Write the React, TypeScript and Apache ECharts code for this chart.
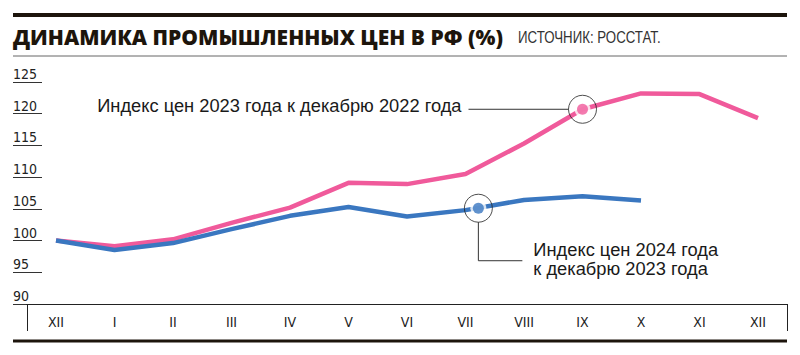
import React, { useEffect, useRef } from "react";
import * as echarts from "echarts";

const months = ["XII", "I", "II", "III", "IV", "V", "VI", "VII", "VIII", "IX", "X", "XI", "XII"];
const index2023 = [100, 99.1, 100.2, 102.8, 105.2, 109.1, 108.9, 110.5, 115.3, 120.7, 123.2, 123.1, 119.3];
const index2024 = [100, 98.5, 99.6, 101.8, 103.9, 105.3, 103.8, 104.8, 106.4, 107.0, 106.3];
const yMin = 90;
const yMax = 125;
const yStep = 5;
const marker2023 = [9, 120.7];
const marker2024 = [7.22, 105.1];
const title = "ДИНАМИКА ПРОМЫШЛЕННЫХ ЦЕН В РФ (%)";
const source = "ИСТОЧНИК: РОССТАТ.";
const label2023 = "Индекс цен 2023 года к декабрю 2022 года";
const label2024 = ["Индекс цен 2024 года", "к декабрю 2023 года"];

const PINK = "#f05a9b";
const BLUE = "#3a77c0";
const INK = "#1d150c";
const COND = "'Liberation Sans Narrow', 'DejaVu Sans Condensed', 'Liberation Sans', Arial, sans-serif";
const SANS = "'Liberation Sans', Arial, sans-serif";

export default function App() {
  const ref = useRef<HTMLDivElement>(null);
  useEffect(() => {
    document.body.style.margin = "0";
    const chart = echarts.init(ref.current!, null, { renderer: "svg" });
    const markerSeries = (pt: number[], color: string, name: string) => [
      {
        name: name + "-ring",
        type: "scatter",
        xAxisIndex: 1,
        yAxisIndex: 0,
        data: [pt],
        symbol: "circle",
        symbolSize: 28,
        itemStyle: { color: "rgba(0,0,0,0)", borderColor: "#222", borderWidth: 1 },
        z: 5,
        silent: true,
      },
      {
        name: name + "-gap",
        type: "scatter",
        xAxisIndex: 1,
        yAxisIndex: 0,
        data: [pt],
        symbol: "circle",
        symbolSize: 16,
        itemStyle: { color: "#fff" },
        z: 6,
        silent: true,
      },
      {
        name: name + "-dot",
        type: "scatter",
        xAxisIndex: 1,
        yAxisIndex: 0,
        data: [pt],
        symbol: "circle",
        symbolSize: 11,
        itemStyle: { color },
        z: 7,
        silent: true,
      },
    ];
    chart.setOption({
      animation: false,
      backgroundColor: "#fff",
      grid: [
        { left: 26.75, right: 12.75, top: 82, bottom: 51, containLabel: false },
        { left: 13, width: 29, top: 82, bottom: 51, containLabel: false },
      ],
      xAxis: [
        {
          type: "category",
          gridIndex: 0,
          data: months,
          boundaryGap: true,
          axisLine: { show: true, lineStyle: { color: "#222", width: 1 } },
          axisTick: {
            show: true,
            interval: (i: number) => i === 1,
            length: 27,
            lineStyle: { color: "#222", width: 1 },
          },
          axisLabel: { color: "#222", fontSize: 14, fontFamily: COND, margin: 11, interval: 0 },
          splitLine: { show: false },
        },
        { type: "value", gridIndex: 0, min: -0.5, max: 12.5, show: false },
        { type: "value", gridIndex: 1, min: 0, max: 1, show: false },
      ],
      yAxis: [
        {
          type: "value",
          gridIndex: 0,
          min: yMin,
          max: yMax,
          interval: yStep,
          show: false,
        },
        {
          type: "value",
          gridIndex: 1,
          min: yMin,
          max: yMax,
          interval: yStep,
          axisLine: { show: false },
          axisTick: { show: false },
          axisLabel: {
            inside: true,
            margin: 0,
            align: "left",
            verticalAlign: "bottom",
            lineHeight: 14,
            padding: [0, 0, 1, 0],
            color: "#222",
            fontSize: 14,
            fontFamily: COND,
          },
          splitLine: { show: true, lineStyle: { color: "#333", width: 1 } },
        },
      ],
      series: [
        {
          name: "2023",
          type: "line",
          data: index2023,
          symbol: "none",
          lineStyle: { color: PINK, width: 4.5 },
          z: 2,
        },
        {
          name: "2024",
          type: "line",
          data: index2024,
          symbol: "none",
          lineStyle: { color: BLUE, width: 4.5 },
          z: 3,
        },
        ...markerSeries(marker2023, PINK, "m23"),
        ...markerSeries(marker2024, BLUE, "m24"),
      ],
    });

    const p23 = chart.convertToPixel({ xAxisIndex: 1, yAxisIndex: 0 }, marker2023) as number[];
    const p24 = chart.convertToPixel({ xAxisIndex: 1, yAxisIndex: 0 }, marker2024) as number[];

    chart.setOption({
      graphic: [
        { type: "rect", shape: { x: 13, y: 13, width: 774, height: 4 }, style: { fill: INK } },
        {
          type: "text",
          x: 13,
          y: 37,
          style: {
            text: title,
            fontSize: 21,
            fontWeight: 900,
            fontFamily: "'Open Sans', 'Noto Sans', sans-serif",
            fill: INK,
            align: "left",
            verticalAlign: "middle",
          },
        },
        {
          type: "text",
          x: 518,
          y: 38,
          scaleX: 0.83,
          style: {
            text: source,
            fontSize: 16,
            fontFamily: SANS,
            fill: "#333",
            align: "left",
            verticalAlign: "middle",
          },
        },
        { type: "line", shape: { x1: 13, y1: 56, x2: 787, y2: 56 }, style: { stroke: "#666", lineWidth: 1 } },
        { type: "rect", shape: { x: 13, y: 339.5, width: 774, height: 3 }, style: { fill: INK } },
        // 2023 annotation
        {
          type: "line",
          shape: { x1: p23[0] - 114, y1: p23[1], x2: p23[0] - 14, y2: p23[1] },
          style: { stroke: "#333", lineWidth: 1 },
        },
        {
          type: "text",
          x: p23[0] - 121,
          y: p23[1] - 4,
          style: {
            text: label2023,
            fontSize: 18.3,
            fontFamily: SANS,
            fill: "#1a1a1a",
            align: "right",
            verticalAlign: "middle",
          },
        },
        // 2024 annotation
        {
          type: "polyline",
          shape: {
            points: [
              [p24[0], p24[1] + 14],
              [p24[0], p24[1] + 52.5],
              [p24[0] + 44, p24[1] + 52.5],
            ],
          },
          style: { stroke: "#333", lineWidth: 1, fill: "none" },
        },
        {
          type: "text",
          x: p24[0] + 55,
          y: p24[1] + 41,
          style: {
            text: label2024[0],
            fontSize: 18.3,
            fontFamily: SANS,
            fill: "#1a1a1a",
            align: "left",
            verticalAlign: "middle",
          },
        },
        {
          type: "text",
          x: p24[0] + 55,
          y: p24[1] + 60,
          style: {
            text: label2024[1],
            fontSize: 18.3,
            fontFamily: SANS,
            fill: "#1a1a1a",
            align: "left",
            verticalAlign: "middle",
          },
        },
      ],
    });

    return () => chart.dispose();
  }, []);
  return (
    <div
      ref={ref}
      style={{ position: "absolute", left: 0, top: 0, width: 800, height: 355, background: "#fff" }}
    />
  );
}
